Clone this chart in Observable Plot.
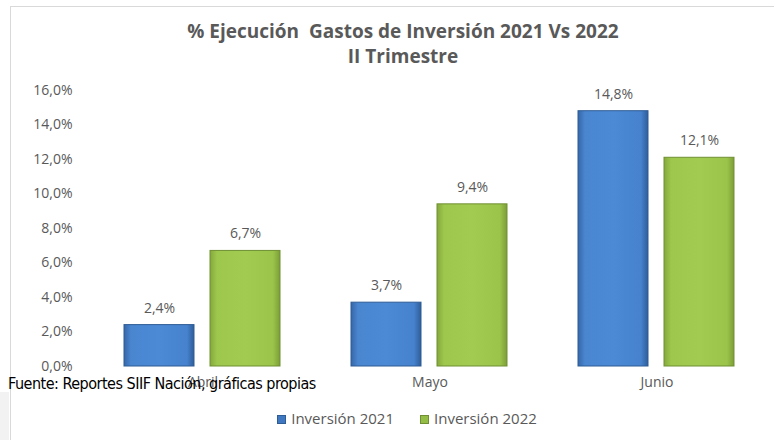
<!DOCTYPE html>
<html><head><meta charset="utf-8">
<script src="https://cdn.jsdelivr.net/npm/d3@7"></script>
<script src="https://cdn.jsdelivr.net/npm/@observablehq/plot@0.6"></script>
<style>
html,body{margin:0;padding:0;background:#fff;}
#wrap{position:relative;width:774px;height:440px;overflow:hidden;font-family:"Open Sans",sans-serif;}
#frame{position:absolute;left:10px;top:6px;width:780px;height:450px;border:1px solid #d9d9d9;box-sizing:border-box;}
#title{position:absolute;left:0;width:806px;top:19px;text-align:center;color:#595959;font-weight:bold;font-size:19px;line-height:25px;font-family:"Open Sans",sans-serif;}
#chart{position:absolute;left:0;top:80px;}
#legend{position:absolute;top:408px;left:20px;width:774px;text-align:center;font-size:15px;color:#595959;}
#legend span.sw{display:inline-block;width:9px;height:9px;margin-right:5px;vertical-align:0px;}
#legend span.item{margin:0 13px;}
#foot{position:absolute;left:8px;top:376px;line-height:16px;font-family:"Liberation Sans Narrow","DejaVu Sans Condensed",sans-serif;font-size:16px;color:#000;letter-spacing:-0.5px;}
#leftgray{position:absolute;left:0;top:392px;width:9px;height:48px;background:#f2f2f2;}
</style></head>
<body><div id="wrap">
<div id="frame"></div>
<div id="leftgray"></div>
<div id="title">% Ejecución&nbsp; Gastos de Inversión 2021 Vs 2022<br>II Trimestre</div>
<div id="chart"></div>
<div id="legend"></div>
<div id="foot">Fuente: Reportes SIIF Nación, gráficas propias</div>
</div>
<script>
const months = ["Abril","Mayo","Junio"];
const seriesNames = ["Inversión 2021","Inversión 2022"];
const inv2021 = [2.4,3.7,14.8];
const inv2022 = [6.7,9.4,12.1];
const yTicks = [0,2,4,6,8,10,12,14,16];

const data = [];
months.forEach((m,i)=>{
  data.push({month:m, series:seriesNames[0], value:inv2021[i]});
  data.push({month:m, series:seriesNames[1], value:inv2022[i]});
});
const fmt = d => d.toFixed(1).replace(".",",")+"%";
const fills = {"Inversión 2021":"url(#gBlue)","Inversión 2022":"url(#gGreen)"};
const strokes = {"Inversión 2021":"#2e5c95","Inversión 2022":"#6f8f32"};

const chart = Plot.plot({
  width:774, height:320,
  marginTop:10, marginBottom:34, marginLeft:89, marginRight:4,
  style:{fontFamily:"Open Sans, sans-serif", fontSize:"14px", color:"#595959", background:"transparent"},
  fx:{domain:months, padding:0, label:null},
  x:{domain:seriesNames, paddingInner:0.184, paddingOuter:0.397, axis:null},
  y:{domain:[0,16], ticks:yTicks, label:null},
  marks:[
    Plot.gridY(yTicks,{stroke:"#d9d9d9", strokeOpacity:1, x1:-1}),
    Plot.axisY(yTicks,{tickSize:0, tickPadding:17, tickFormat:fmt, label:null, fontSize:14}),
    Plot.axisFx({anchor:"bottom", tickSize:0, tickPadding:11, label:null, fontSize:14}),
    ...seriesNames.map(s => Plot.barY(data.filter(d=>d.series===s),{fx:"month", x:"series", y:"value", fill:fills[s], stroke:strokes[s], strokeWidth:1})),
    Plot.text(data,{fx:"month", x:"series", y:"value", text:d=>fmt(d.value), dy:-17, fill:"#595959", fontSize:14})
  ]
});
const svg = d3.select(chart);
const defs = svg.insert("defs",":first-child");
const g1 = defs.append("linearGradient").attr("id","gBlue").attr("x1","0").attr("x2","1").attr("y1","0").attr("y2","0");
[["0%","#3567a8"],["10%","#4a86d0"],["50%","#4c8ad6"],["90%","#4682cd"],["100%","#2f5d99"]].forEach(([o,c])=>g1.append("stop").attr("offset",o).attr("stop-color",c));
const g2 = defs.append("linearGradient").attr("id","gGreen").attr("x1","0").attr("x2","1").attr("y1","0").attr("y2","0");
[["0%","#85a83c"],["10%","#9dc74d"],["50%","#a2cb52"],["90%","#9ac44a"],["100%","#7d9e38"]].forEach(([o,c])=>g2.append("stop").attr("offset",o).attr("stop-color",c));
document.getElementById("chart").appendChild(chart);

const leg = d3.select("#legend");
const swc = {"Inversión 2021":"#3f78c0","Inversión 2022":"#94bd45"};
seriesNames.forEach(s=>{
  const it = leg.append("span").attr("class","item");
  it.append("span").attr("class","sw").style("background",swc[s]).style("border","1px solid "+strokes[s]).style("box-sizing","border-box");
  it.append("span").text(s);
});
</script>
</body></html>
